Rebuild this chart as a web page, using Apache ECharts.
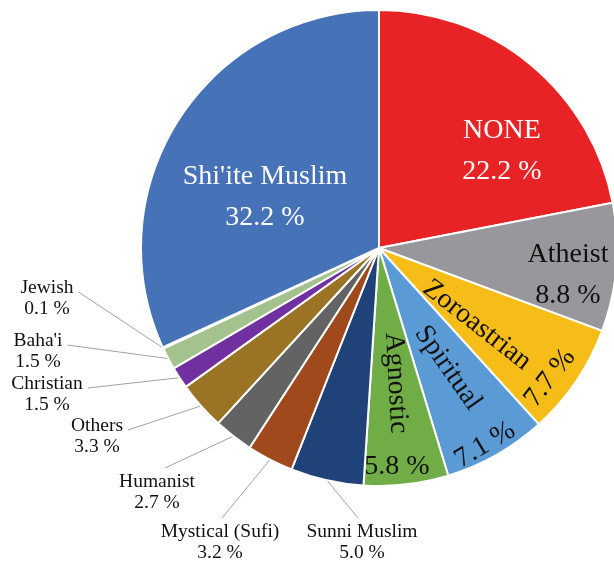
<!DOCTYPE html>
<html>
<head>
<meta charset="utf-8">
<script src="https://cdn.jsdelivr.net/npm/echarts@6/dist/echarts.min.js"></script>
<style>
html, body { margin: 0; padding: 0; background: #fff; }
#chart { width: 614px; height: 562px; }
</style>
</head>
<body>
<div id="chart"></div>
<script>
// 数据: 从12点方向顺时针
var names = ['NONE', 'Atheist', 'Zoroastrian', 'Spiritual', 'Agnostic', 'Sunni Muslim', 'Mystical (Sufi)',
    'Humanist', 'Others', 'Christian', "Baha'i", 'Jewish', "Shi'ite Muslim"];
var values = [22.2, 8.8, 7.7, 7.1, 5.8, 5.0, 3.2, 2.7, 3.3, 1.5, 1.5, 0.1, 32.2];

var colors = ['#e82326', '#98989c', '#f6bd18', '#5b9bd5', '#70ad47', '#1f4378', '#a0491d',
    '#636363', '#9a7325', '#7030a0', '#a4c28e', '#c9dcea', '#4672b8'];

// 标签摆放 [x, y, 旋转角]
var namePos = {
    'NONE': [502, 151, 0],
    'Atheist': [568, 275, 0],
    'Zoroastrian': [477, 325, -38],
    'Spiritual': [448, 368, -55],
    'Agnostic': [396, 383, -87],
    'Sunni Muslim': [362, 542, 0],
    'Mystical (Sufi)': [220, 542, 0],
    'Humanist': [157, 492, 0],
    'Others': [97, 436, 0],
    'Christian': [47, 394, 0],
    "Baha'i": [38, 351, 0],
    'Jewish': [47, 298, 0],
    "Shi'ite Muslim": [265, 197, 0]
};
var pctPos = {
    'Zoroastrian': [550, 378, 52],
    'Spiritual': [485, 445, 31],
    'Agnostic': [397, 467, 0]
};
// 引导线接在标签的哪一边 [类型, 水平偏移]
var lineEnd = {
    'Jewish': ['right', 0], "Baha'i": ['right', 0], 'Christian': ['right', 0], 'Others': ['right', 0],
    'Humanist': ['top', 8], 'Mystical (Sufi)': ['top', 2], 'Sunni Muslim': ['top', -4]
};
var innerNames = ["Shi'ite Muslim", 'NONE', 'Atheist'];
var rotatedNames = ['Zoroastrian', 'Spiritual', 'Agnostic'];
var whiteNames = ["Shi'ite Muslim", 'NONE'];

function pct(v) { return v.toFixed(1) + ' %'; }

var mainData = [];
var pctData = [];
for (var i = 0; i < names.length; i++) {
    var n = names[i];
    var inner = innerNames.indexOf(n) >= 0;
    var rotated = rotatedNames.indexOf(n) >= 0;
    mainData.push({
        name: n,
        value: values[i],
        itemStyle: { color: colors[i] },
        label: {
            formatter: rotated ? n : n + '\n' + pct(values[i]),
            fontSize: (inner || rotated) ? 28 : 19.5,
            lineHeight: (inner || rotated) ? 41 : 21,
            color: whiteNames.indexOf(n) >= 0 ? '#ffffff' : '#111111'
        },
        labelLine: { show: !(inner || rotated) }
    });
    pctData.push({
        name: n,
        value: values[i],
        label: { show: rotated, formatter: pct(values[i]) }
    });
}

var dom = document.getElementById('chart');
var myChart = echarts.init(dom);

myChart.setOption({
    backgroundColor: '#ffffff',
    animation: false,
    series: [{
        type: 'pie',
        center: [379, 248],
        radius: 238,
        startAngle: 90,
        avoidLabelOverlap: false,
        itemStyle: { borderColor: '#ffffff', borderWidth: 2 },
        label: {
            show: true,
            fontFamily: 'Liberation Serif',
            align: 'center'
        },
        labelLine: {
            length: 10,
            length2: 10,
            smooth: false,
            lineStyle: { color: '#8a8a8a', width: 0.8 }
        },
        labelLayout: function (params) {
            var n = names[params.dataIndex];
            var p = namePos[n];
            var out = { x: p[0], y: p[1], rotate: p[2], align: 'center', verticalAlign: 'middle' };
            var le = lineEnd[n];
            if (le && params.labelLinePoints) {
                var w = params.labelRect.width, h = params.labelRect.height;
                var start = params.labelLinePoints[0];
                var end;
                if (le[0] === 'right') end = [p[0] + w / 2 + 5, p[1] - 6];
                else end = [p[0] + le[1], p[1] - h / 2 - 3];
                out.labelLinePoints = [start, start, end];
            }
            return out;
        },
        data: mainData
    }, {
        type: 'pie',
        center: [379, 248],
        radius: 238,
        startAngle: 90,
        silent: true,
        avoidLabelOverlap: false,
        itemStyle: { color: 'rgba(0,0,0,0)' },
        label: {
            fontFamily: 'Liberation Serif',
            fontSize: 28,
            color: '#111111'
        },
        labelLine: { show: false },
        labelLayout: function (params) {
            var p = pctPos[names[params.dataIndex]] || [0, 0, 0];
            return { x: p[0], y: p[1], rotate: p[2], align: 'center', verticalAlign: 'middle' };
        },
        data: pctData
    }]
});
</script>
</body>
</html>
